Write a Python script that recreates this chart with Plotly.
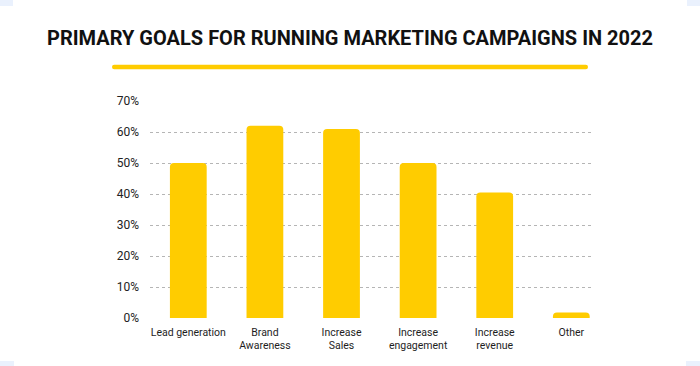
import plotly.graph_objects as go

categories = ["Lead generation", "Brand<br>Awareness", "Increase<br>Sales",
              "Increase<br>engagement", "Increase<br>revenue", "Other"]
values = [50, 62, 61, 50, 40.5, 1.8]
tick_vals = [0, 10, 20, 30, 40, 50, 60, 70]
tick_text = [f"{v}%" for v in tick_vals]
title_text = "PRIMARY GOALS FOR RUNNING MARKETING CAMPAIGNS IN 2022"

W, H = 700, 366
L, R, T, B = 150, 108, 101, 48
pw, ph = W - L - R, H - T - B

def px(x):
    return (x - L) / pw

def py(y):
    return (H - B - y) / ph

YELLOW = "#FFCC00"

fig = go.Figure(go.Bar(
    x=categories, y=values, marker=dict(color=YELLOW, line=dict(width=0)),
    hoverinfo="skip",
))

# rounded underline bar
x0, x1, yc, hh = px(112), px(588), py(67), 2.2 / ph
r = 2.2 / pw
path = (f"M {x0+r},{yc+hh} L {x1-r},{yc+hh} Q {x1},{yc+hh} {x1},{yc} "
        f"Q {x1},{yc-hh} {x1-r},{yc-hh} L {x0+r},{yc-hh} Q {x0},{yc-hh} {x0},{yc} "
        f"Q {x0},{yc+hh} {x0+r},{yc+hh} Z")
shapes = [dict(type="path", xref="paper", yref="paper", path=path,
               fillcolor=YELLOW, line=dict(width=0))]
# light corner marks
corner = "#EAF1FD"
for (a, b, c, d) in [(0, 0, 13, 6), (687, 0, 700, 6), (0, 361, 14, 366), (686, 361, 700, 366)]:
    shapes.append(dict(type="rect", xref="paper", yref="paper",
                       x0=px(a), x1=px(c), y0=py(b), y1=py(d),
                       fillcolor=corner, line=dict(width=0), layer="below"))

fig.update_layout(
    width=W, height=H,
    margin=dict(l=L, r=R, t=T, b=B, pad=0),
    paper_bgcolor="white", plot_bgcolor="white",
    showlegend=False,
    bargap=0.52,
    barcornerradius=4,
    shapes=shapes,
    title=dict(text=f"<b>{title_text}</b>", x=0.5, xref="container", xanchor="center",
               y=1 - 37.5 / H, yref="container", yanchor="middle",
               font=dict(family="Roboto", size=20, color="#111111")),
    font=dict(family="Roboto", color="#222222", size=12),
    xaxis=dict(range=[-0.5, 5.27], showgrid=False, zeroline=False, showline=False,
               ticks="", ticklabelstandoff=6,
               tickfont=dict(size=10.5, color="#1e1e1e"), fixedrange=True),
    yaxis=dict(range=[0, 70], tickvals=tick_vals, ticktext=tick_text,
               showgrid=True, gridcolor="#B5B5B5", griddash="dot", gridwidth=1,
               zeroline=False, showline=False, ticks="", ticklabelstandoff=10,
               tickfont=dict(size=12, color="#222222"), fixedrange=True),
)

fig.write_html("out.html", config={"displayModeBar": False},
               post_script="document.body.style.margin='0px';document.body.style.overflow='hidden';")
